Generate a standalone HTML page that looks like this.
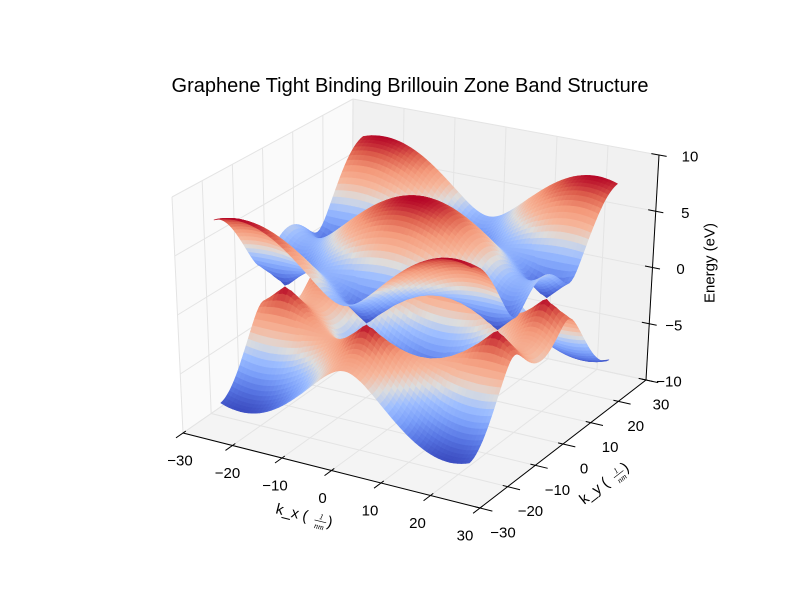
<!DOCTYPE html>
<html><head><meta charset="utf-8"><style>
html,body{margin:0;padding:0;background:#fff;}
svg{display:block;font-family:"Liberation Sans",sans-serif;}
</style></head><body>
<svg id="chart" width="800" height="600" viewBox="0 0 800 600">
<text x="410" y="92" font-size="20" text-anchor="middle">Graphene Tight Binding Brillouin Zone Band Structure</text>
<g id="panes"></g>
<g id="grid"></g>
<g id="axes"></g>
<g id="surf"></g>
<g id="labels"></g>
<text x="710" y="263" font-size="15" text-anchor="middle" dominant-baseline="central" transform="rotate(-90 710 263)">Energy (eV)</text>
<g transform="translate(307,517) rotate(14)">
<text x="-32" y="4" font-size="15">k_x (</text><text x="14" y="-1" font-size="8" font-family="Liberation Serif,serif" font-style="italic" text-anchor="middle">1</text><line x1="8" y1="1" x2="20" y2="1" stroke="#000" stroke-width="0.6"/><text x="14" y="9" font-size="8" font-family="Liberation Serif,serif" font-style="italic" text-anchor="middle">nm</text><text x="21" y="4" font-size="15">)</text></g>
<g transform="translate(607,482) rotate(-38)">
<text x="-32" y="4" font-size="15">k_y (</text><text x="14" y="-1" font-size="8" font-family="Liberation Serif,serif" font-style="italic" text-anchor="middle">1</text><line x1="8" y1="1" x2="20" y2="1" stroke="#000" stroke-width="0.6"/><text x="14" y="9" font-size="8" font-family="Liberation Serif,serif" font-style="italic" text-anchor="middle">nm</text><text x="21" y="4" font-size="15">)</text></g>
</svg>
<script>
const xTicks=[-30,-20,-10,0,10,20,30];
const yTicks=[-30,-20,-10,0,10,20,30];
const zTicks=[-10,-5,0,5,10];
const hopping=[2.7];        // t (eV)
const kxCoef=[0.15];        // phase factor along kx (nm)
const kyCoef=[0.123];       // phase factor along ky (nm)
const kRange=[-25,25];      // k extent (1/nm)
const gridCount=[64];

const NS='http://www.w3.org/2000/svg';
function mk(tag,attrs,parent){const e=document.createElementNS(NS,tag);for(const k in attrs)e.setAttribute(k,attrs[k]);parent.appendChild(e);return e;}
const B0={A:[183,433],B:[480,508],C:[646,380],D:[352,316]};
const T0={A:[172,197],B:[483,252],C:[659,155],D:[353,99]};
function bil(c,u,v,i){return c.A[i]*(1-u)*(1-v)+c.B[i]*u*(1-v)+c.C[i]*u*v+c.D[i]*(1-u)*v;}
function P(x,y,z){const u=(x+30)/60,v=(y+30)/60,w=(z+10)/20;
 return [bil(B0,u,v,0)*(1-w)+bil(T0,u,v,0)*w, bil(B0,u,v,1)*(1-w)+bil(T0,u,v,1)*w];}
function pts(a){return a.map(p=>{const q=P(p[0],p[1],p[2]);return q[0].toFixed(1)+','+q[1].toFixed(1);}).join(' ');}
const panes=document.getElementById('panes');
let e;
e=mk('polygon',{points:pts([[-30,-30,-10],[-30,30,-10],[-30,30,10],[-30,-30,10]]),fill:'#fafafa'},panes);

e=mk('polygon',{points:pts([[-30,30,-10],[30,30,-10],[30,30,10],[-30,30,10]]),fill:'#f1f1f1'},panes);

e=mk('polygon',{points:pts([[-30,-30,-10],[30,-30,-10],[30,30,-10],[-30,30,-10]]),fill:'#f4f4f4'},panes);

const grid=document.getElementById('grid');
function gl(a,b){const p=P(...a),q=P(...b);const l=mk('line',{x1:p[0],y1:p[1],x2:q[0],y2:q[1],stroke:'#e4e4e4','stroke-width':1},grid);
}
yTicks.forEach(v=>{gl([-30,v,-10],[-30,v,10]);gl([-30,v,-10],[30,v,-10]);});
xTicks.forEach(v=>{gl([v,30,-10],[v,30,10]);gl([v,-30,-10],[v,30,-10]);});
zTicks.forEach(v=>{gl([-30,-30,v],[-30,30,v]);gl([-30,30,v],[30,30,v]);});
const axes=document.getElementById('axes');
function al(a,b,name){const p=P(...a),q=P(...b);const l=mk('line',{x1:p[0],y1:p[1],x2:q[0],y2:q[1],stroke:'#000','stroke-width':1},axes);
}
al([-30,-30,-10],[30,-30,-10],'x-axis-line');
al([30,-30,-10],[30,30,-10],'y-axis-line');
al([30,30,-10],[30,30,10],'z-axis-line');
xTicks.forEach(v=>al([v,-29,-10],[v,-32.5,-10],'x-tick'));
yTicks.forEach(v=>al([29,v,-10],[32.5,v,-10],'y-tick'));
zTicks.forEach(v=>al([28.5,30,v],[31.5,30,v],'z-tick'));
const cmapStops=[[0,[59,76,192]],[0.125,[88,118,227]],[0.25,[123,159,249]],[0.375,[158,190,255]],[0.5,[221,221,221]],[0.625,[246,183,156]],[0.75,[244,154,123]],[0.875,[222,96,77]],[1,[180,4,38]]];
function cmap(t){t=Math.max(0,Math.min(1,t));for(let i=1;i<cmapStops.length;i++){if(t<=cmapStops[i][0]){const a=cmapStops[i-1],b=cmapStops[i];const f=(t-a[0])/(b[0]-a[0]);
return 'rgb('+a[1].map((c,j)=>Math.round(c+(b[1][j]-c)*f)).join(',')+')';}}return 'rgb(180,4,38)';}
const t=hopping[0],cx=kxCoef[0],cy=kyCoef[0],N=gridCount[0];
function E(kx,ky){const c=Math.cos(cy*ky);return t*Math.sqrt(Math.max(0,1+4*Math.cos(cx*kx)*c+4*c*c));}
const ks=[];for(let i=0;i<=N;i++)ks.push(kRange[0]+(kRange[1]-kRange[0])*i/N);
const faces=[];
const eye=[0.433,-0.75,0.5];
[1,-1].forEach(sign=>{
 const Z=ks.map(kx=>ks.map(ky=>sign*E(kx,ky)));
 let mn=Infinity,mx=-Infinity;Z.forEach(r=>r.forEach(v=>{mn=Math.min(mn,v);mx=Math.max(mx,v);}));
 for(let i=0;i<N;i++)for(let j=0;j<N;j++){
  const q=[[ks[i],ks[j],Z[i][j]],[ks[i+1],ks[j],Z[i+1][j]],[ks[i+1],ks[j+1],Z[i+1][j+1]],[ks[i],ks[j+1],Z[i][j+1]]];
  const zm=(q[0][2]+q[1][2]+q[2][2]+q[3][2])/4;
  const mx0=(ks[i]+ks[i+1])/2,my0=(ks[j]+ks[j+1])/2;
  const d=eye[0]*mx0/60+eye[1]*my0/60+eye[2]*zm/20;
  faces.push({q,col:cmap((zm-mn)/(mx-mn)),d,sign});
 }
});
faces.sort((f,g)=>f.d-g.d);
const surf=document.getElementById('surf');
faces.forEach(f=>{const p=mk('polygon',{points:pts(f.q),fill:f.col,stroke:f.col,'stroke-width':0.6,'stroke-linejoin':'round'},surf);

});
const labels=document.getElementById('labels');
function tl(x,y,s,name){const l=mk('text',{x:x,y:y,'font-size':15,'text-anchor':'middle','dominant-baseline':'central'},labels);l.textContent=s;
}
function fmt(v){return v<0?'\u2212'+(-v):''+v;}
xTicks.forEach(v=>{const p=P(v,-30,-10);const u=(v+30)/60;tl(p[0]-3-12*u,p[1]+28,fmt(v),'x-tick-label');});
yTicks.forEach(v=>{const p=P(30,v,-10);const u=(v+30)/60;tl(p[0]+23-8*u*u,p[1]+25,fmt(v),'y-tick-label');});
zTicks.forEach(v=>{const p=P(30,30,v);tl(p[0]+28+0.3*v+(v<0?-2:0),p[1]+2,fmt(v),'z-tick-label');});
</script>
</body></html>
